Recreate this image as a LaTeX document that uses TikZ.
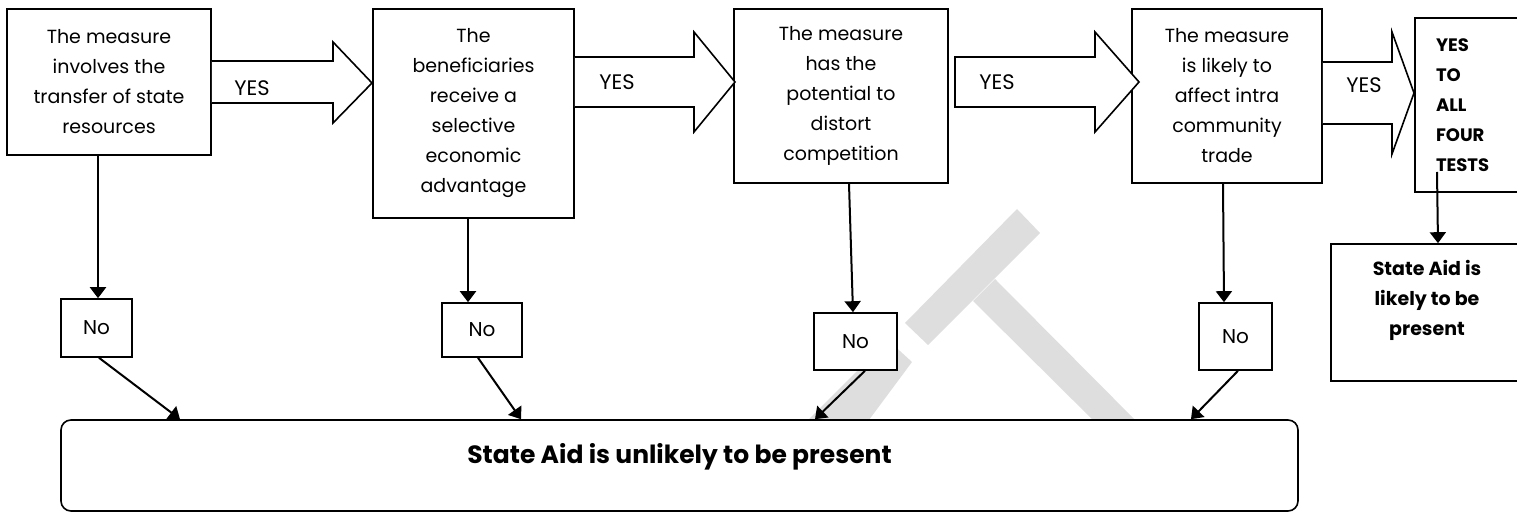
\documentclass[tikz,border=0pt]{standalone}
\usepackage{fontspec}
\setmainfont{Poppins}
\usetikzlibrary{arrows.meta,calc}
\definecolor{wmgrey}{RGB}{222,222,222}

\begin{document}
\begin{tikzpicture}[x=0.5pt,y=-0.5pt,
  testbox/.style={draw,fill=white,line width=0.8pt,align=center,inner sep=0pt,font=\fontsize{9.5}{15}\selectfont},
  nobox/.style={draw,fill=white,line width=0.8pt,inner sep=0pt,font=\fontsize{10}{12}\selectfont},
  yesarrow/.style={draw,fill=white,line width=0.8pt,line join=miter},
  yeslabel/.style={inner sep=0pt,font=\fontsize{10.5}{12}\selectfont},
  flowline/.style={line width=1pt,-{Triangle[length=5.5pt,width=8pt]}}]
  \clip (0,0) rectangle (1517,512);
  \fill[wmgrey] (905,323) -- (1017,209) -- (1040,233) -- (928,345) -- cycle;
  \fill[wmgrey] (973,301) -- (995,279) -- (1150,435) -- (1108,435) -- cycle;
  \fill[wmgrey] (800,428) -- (863,428) -- (912,362) -- (888,340) -- cycle;
  \path (109,82) node[testbox,minimum width=102pt,minimum height=73pt] (b1) {The measure\\involves the\\transfer of state\\resources}
  (473.5,113.5) node[testbox,minimum width=100.5pt,minimum height=104.5pt] (b2) {The\\beneficiaries\\receive a\\selective\\economic\\advantage}
  (841,96) node[testbox,minimum width=107pt,minimum height=87pt] (b3) {The measure\\has the\\potential to\\distort\\competition}
  (1227,96) node[testbox,minimum width=95pt,minimum height=87pt] (b4) {The measure\\is likely to\\affect intra\\community\\trade}
  (1469,105) node[testbox,minimum width=54pt,minimum height=87pt,text width=33pt,inner xsep=10.5pt,align=left,font=\fontsize{9}{15}\selectfont\bfseries] (b5) {YES\\TO\\ALL\\FOUR\\TESTS}
  (1427,312.5) node[testbox,minimum width=96pt,minimum height=68.5pt,font=\fontsize{9.5}{15}\selectfont\bfseries] (b6) {State Aid is\\likely to be\\present\\\mbox{}};
  \path (96.5,328) node[nobox,minimum width=35.5pt,minimum height=29pt] (n1) {No}
  (482,330) node[nobox,minimum width=40pt,minimum height=27pt] (n2) {No}
  (855.5,341.5) node[nobox,minimum width=41.5pt,minimum height=28.5pt] (n3) {No}
  (1235.5,336.5) node[nobox,minimum width=36.5pt,minimum height=33.5pt] (n4) {No};
  \node[draw,fill=white,line width=0.8pt,rounded corners=5pt,minimum width=618.5pt,minimum height=45.5pt,
    text depth=12.5pt,font=\fontsize{12.5}{14}\selectfont\bfseries] (none) at (679.5,465.5) {State Aid is unlikely to be present};
  \draw[yesarrow] (b1.east |- 0,61) -- (333,61) -- (333,42) -- (372,83) -- (333,123) -- (333,103) -- (b1.east |- 0,103);
  \draw[yesarrow] (b2.east |- 0,57) -- (694,57) -- (694,32) -- (735,82) -- (694,132) -- (694,107) -- (b2.east |- 0,107);
  \draw[yesarrow] (955,57) -- (1095,57) -- (1095,32) -- (1139,82) -- (1095,132) -- (1095,107) -- (955,107) -- cycle;
  \draw[yesarrow] (b4.east |- 0,62) -- (1392,62) -- (1392,32) -- (1414,93) -- (1392,154) -- (1392,124) -- (b4.east |- 0,124);
  \path (252,88) node[yeslabel] (y1) {YES}
  (617,82) node[yeslabel] (y2) {YES}
  (997,82) node[yeslabel] (y3) {YES}
  (1364,85) node[yeslabel] (y4) {YES};
  \draw[flowline] (b1.south -| 98,0) -- (n1.north -| 98,0);
  \draw[flowline] (b2.south -| 468,0) -- (n2.north -| 468,0);
  \draw[flowline] (b3.south -| 849,0) -- (n3.north -| 853,0);
  \draw[flowline] (b4.south -| 1223,0) -- (n4.north -| 1224,0);
  \draw[flowline] (1437,172) -- (b6.north -| 1438,0);
  \draw[flowline] (n1.south -| 99,0) -- (none.north -| 180,0);
  \draw[flowline] (n2.south -| 478,0) -- (none.north -| 521,0);
  \draw[flowline] (n3.south -| 865,0) -- (none.north -| 815,0);
  \draw[flowline] (n4.south -| 1238,0) -- (none.north -| 1191,0);
\end{tikzpicture}
\end{document}
